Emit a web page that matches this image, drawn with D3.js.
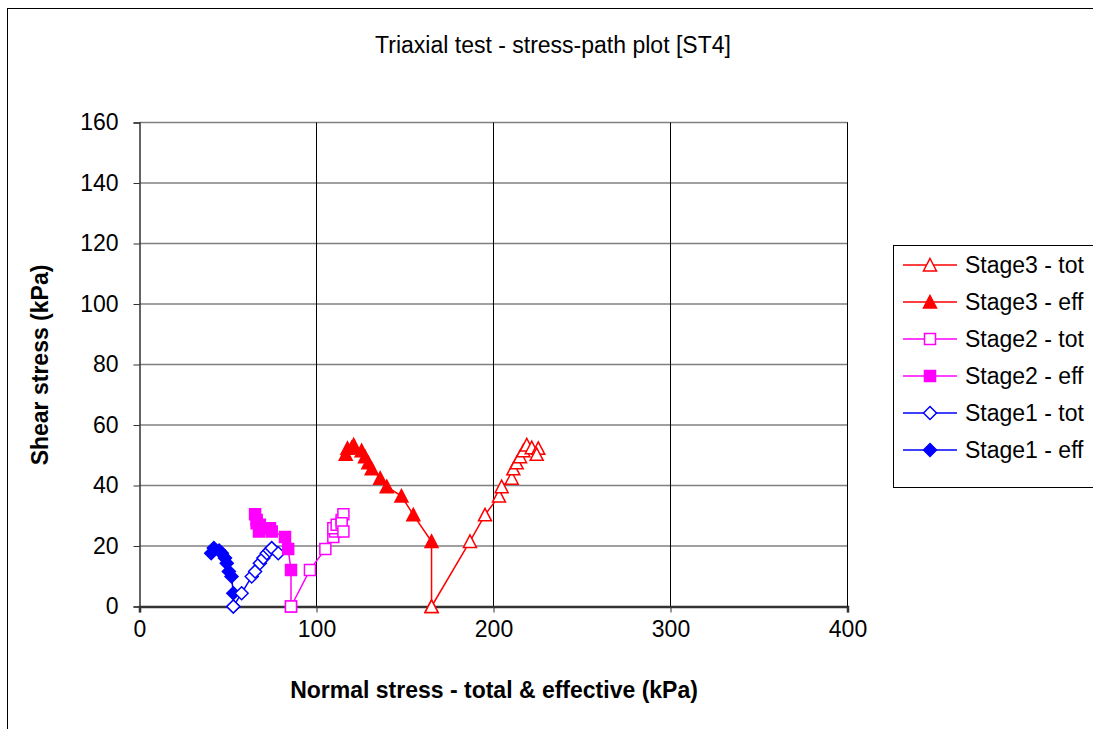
<!DOCTYPE html>
<html>
<head>
<meta charset="utf-8">
<script src="https://cdn.jsdelivr.net/npm/d3@7"></script>
<style>
  body { margin: 0; background: #fff; }
  svg { font-family: "Liberation Sans", Arial, sans-serif; }
</style>
</head>
<body>
<svg id="chart" width="1093" height="729"></svg>
<script>
// shear stress (kPa) per reading, shared by tot & eff of a stage
const stage1Shear = [0, 4.4, 9.9, 11.6, 14.3, 16, 17.6, 18.5, 19.3, 17.6];
const stage1Eff   = [53, 53, 52, 50.5, 49.3, 48.3, 46.5, 45, 42, 40.5];
const stage1Tot   = [53, 57.7, 63.4, 65.3, 68, 70, 71.9, 73.5, 74.7, 78.4];

const stage2Shear = [0, 12.1, 19, 23, 24.8, 25.9, 27, 28.6, 30.5, 27.5, 24.8];
const stage2Eff   = [85.6, 85.6, 84, 82.2, 74.7, 73.7, 68, 66.2, 65.3, 66.2, 67.5];
const stage2Tot   = [85.6, 96.3, 105, 109.5, 110.5, 109.5, 111.4, 114.2, 115.2, 114.2, 115.2];

const stage3Shear = [0, 21.5, 30.3, 36.5, 39.6, 42.4, 45.5, 47.5, 49.5, 51.5, 53.4, 52.5, 52.3, 50.3];
const stage3Eff   = [165, 165, 154.7, 148, 139.7, 136, 131.2, 129.3, 127.4, 125.5, 121, 119.9, 117.5, 116.5];
const stage3Tot   = [165, 186.7, 195.2, 203.1, 204.6, 210.3, 211.2, 213.1, 215, 216.9, 218.8, 221.6, 225.3, 224.4];

const xTicks = [0, 100, 200, 300, 400];
const yTicks = [0, 20, 40, 60, 80, 100, 120, 140, 160];

const series = [
  { name: "Stage1 - eff", x: stage1Eff, y: stage1Shear, color: "#0000FF", shape: "diamond", filled: true },
  { name: "Stage1 - tot", x: stage1Tot, y: stage1Shear, color: "#0000FF", shape: "diamond", filled: false },
  { name: "Stage2 - eff", x: stage2Eff, y: stage2Shear, color: "#FF00FF", shape: "square", filled: true },
  { name: "Stage2 - tot", x: stage2Tot, y: stage2Shear, color: "#FF00FF", shape: "square", filled: false },
  { name: "Stage3 - eff", x: stage3Eff, y: stage3Shear, color: "#FF0000", shape: "triangle", filled: true },
  { name: "Stage3 - tot", x: stage3Tot, y: stage3Shear, color: "#FF0000", shape: "triangle", filled: false }
];
const legendOrder = ["Stage3 - tot", "Stage3 - eff", "Stage2 - tot", "Stage2 - eff", "Stage1 - tot", "Stage1 - eff"];

const svg = d3.select("#chart");
const plotLeft = 139.5, plotRight = 847.5, plotTop = 122.5, plotBottom = 606.5;

const x = d3.scaleLinear().domain([0, 400]).range([plotLeft, plotRight]);
const y = d3.scaleLinear().domain([0, 160]).range([plotBottom, plotTop]);

function markerPath(shape) {
  if (shape === "triangle") return "M0,-6.5L6.5,6L-6.5,6Z";
  if (shape === "square") return "M-5.5,-5.5H5.5V5.5H-5.5Z";
  return "M0,-6.5L6.5,0L0,6.5L-6.5,0Z";
}

// chart frame
svg.append("rect")
  .attr("x", 7.5).attr("y", 8.5)
  .attr("width", 1100).attr("height", 740)
  .attr("fill", "none").attr("stroke", "#000").attr("stroke-width", 1);

// grid
svg.append("g")
  .selectAll("line")
  .data(yTicks.slice(1))
  .join("line")
  .attr("x1", plotLeft).attr("x2", plotRight)
  .attr("y1", d => y(d)).attr("y2", d => y(d))
  .attr("stroke", "#808080").attr("stroke-width", 1.5);

svg.append("g")
  .selectAll("line")
  .data(xTicks.slice(1))
  .join("line")
  .attr("x1", d => x(d)).attr("x2", d => x(d))
  .attr("y1", plotTop).attr("y2", plotBottom)
  .attr("stroke", "#000").attr("stroke-width", 1);

// axes
const yAxis = svg.append("g")
  .attr("transform", `translate(${plotLeft},0)`)
  .call(d3.axisLeft(y).tickValues(yTicks).tickSize(6).tickPadding(15));
const xAxis = svg.append("g")
  .attr("transform", `translate(0,${plotBottom})`)
  .call(d3.axisBottom(x).tickValues(xTicks).tickSize(6).tickPadding(8));

[xAxis, yAxis].forEach(a => {
  a.select(".domain").attr("stroke", "#333").attr("stroke-width", 1.5);
  a.selectAll(".tick line").attr("stroke", "#333");
  a.selectAll(".tick text").attr("font-size", 23).attr("fill", "#000")
    .attr("font-family", "Liberation Sans, Arial, sans-serif");
});
xAxis.select(".domain").attr("stroke-width", 2.5);

// data
const line = d3.line().x(d => x(d[0])).y(d => y(d[1]));

series.forEach(s => {
  const pts = s.x.map((v, i) => [v, s.y[i]]);
  const g = svg.append("g");
  g.append("path")
    .attr("d", line(pts))
    .attr("fill", "none").attr("stroke", s.color).attr("stroke-width", 1.5);
  g.selectAll("path.m")
    .data(pts)
    .join("path")
    .attr("class", "m")
    .attr("d", markerPath(s.shape))
    .attr("transform", d => `translate(${x(d[0])},${y(d[1])})`)
    .attr("fill", s.filled ? s.color : "#fff")
    .attr("stroke", s.color).attr("stroke-width", 1.5);
});

// plot area right border
svg.append("line")
  .attr("x1", plotRight).attr("x2", plotRight).attr("y1", plotTop).attr("y2", plotBottom)
  .attr("stroke", "#000").attr("stroke-width", 1);

// titles
svg.append("text")
  .attr("x", 553).attr("y", 53)
  .attr("text-anchor", "middle").attr("font-size", 23)
  .text("Triaxial test - stress-path plot [ST4]");

svg.append("text")
  .attr("x", 494).attr("y", 698)
  .attr("text-anchor", "middle").attr("font-size", 23).attr("font-weight", "bold")
  .text("Normal stress - total & effective (kPa)");

svg.append("text")
  .attr("transform", "translate(48,365) rotate(-90)")
  .attr("text-anchor", "middle").attr("font-size", 23).attr("font-weight", "bold")
  .text("Shear stress (kPa)");

// legend
const legend = svg.append("g");
legend.append("rect")
  .attr("x", 893.5).attr("y", 245.5)
  .attr("width", 220).attr("height", 242)
  .attr("fill", "#fff").attr("stroke", "#000").attr("stroke-width", 1);

const ly = d3.scalePoint().domain(legendOrder).range([265, 450]);
legendOrder.forEach(n => {
  const s = series.find(d => d.name === n);
  const row = legend.append("g").attr("transform", `translate(0,${ly(n)})`);
  row.append("line")
    .attr("x1", 903).attr("x2", 957)
    .attr("stroke", s.color).attr("stroke-width", 1.5);
  row.append("path")
    .attr("d", markerPath(s.shape))
    .attr("transform", "translate(930,0)")
    .attr("fill", s.filled ? s.color : "#fff")
    .attr("stroke", s.color).attr("stroke-width", 1.5);
  row.append("text")
    .attr("x", 965).attr("y", 8)
    .attr("font-size", 23)
    .text(n);
});
</script>
</body>
</html>
